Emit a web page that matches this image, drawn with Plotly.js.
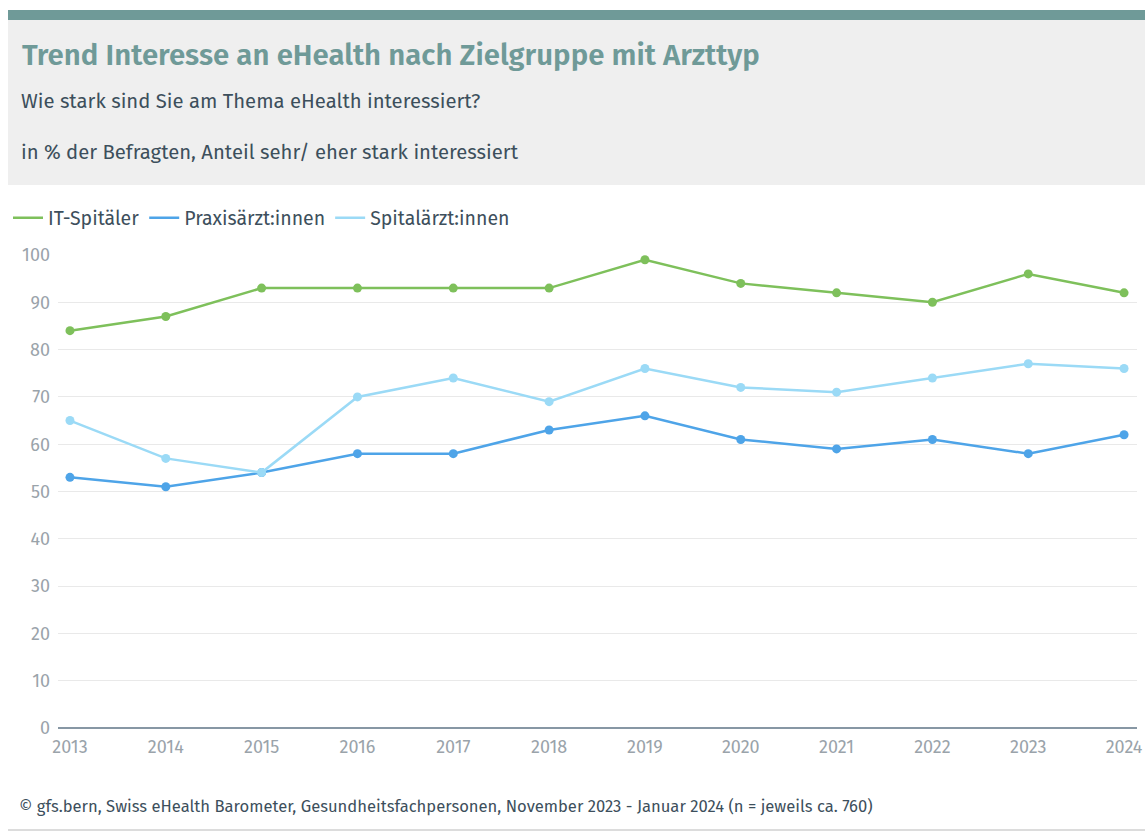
<!DOCTYPE html>
<html>
<head>
<meta charset="utf-8">
<script src="https://cdn.plot.ly/plotly-3.0.1.min.js"></script>
<style>
html,body{margin:0;padding:0;background:#fff;}
#chart{width:1145px;height:832px;}
</style>
</head>
<body>
<div id="chart"></div>
<script>
const years = [2013, 2014, 2015, 2016, 2017, 2018, 2019, 2020, 2021, 2022, 2023, 2024];
const itSpitaeler = [84, 87, 93, 93, 93, 93, 99, 94, 92, 90, 96, 92];
const praxisaerzte = [53, 51, 54, 58, 58, 63, 66, 61, 59, 61, 58, 62];
const spitalaerzte = [65, 57, 54, 70, 74, 69, 76, 72, 71, 74, 77, 76];
const seriesNames = ["IT-Spitäler", "Praxisärzt:innen", "Spitalärzt:innen"];
const yTicks = [0, 10, 20, 30, 40, 50, 60, 70, 80, 90, 100];
const titleText = "Trend Interesse an eHealth nach Zielgruppe mit Arzttyp";
const subtitleText = "Wie stark sind Sie am Thema eHealth interessiert?";
const unitText = "in % der Befragten, Anteil sehr/ eher stark interessiert";
const sourceText = "© gfs.bern, Swiss eHealth Barometer, Gesundheitsfachpersonen, November 2023 - Januar 2024 (n = jeweils ca. 760)";

const W = 1145, H = 832;
const M = {l: 58, r: 8, t: 255, b: 104};
const PW = W - M.l - M.r, PH = H - M.t - M.b;
const px = x => (x - M.l) / PW;
const py = y => (H - M.b - y) / PH;

const FONT = "'Fira Sans', 'Noto Sans', 'Open Sans', sans-serif";
const colors = ["#7ec05b", "#4ea4e8", "#9bdaf6"];

function trace(name, vals, c) {
  return {
    x: years, y: vals, name: name, type: "scatter", mode: "lines+markers",
    line: {color: c, width: 2.5}, marker: {color: c, size: 9},
    showlegend: false, legendgroup: name, hoverinfo: "x+y+name"
  };
}
function legendTrace(name, c) {
  return {
    x: [null], y: [null], name: name, type: "scatter", mode: "lines",
    line: {color: c, width: 2.5}, showlegend: true, legendgroup: name, hoverinfo: "skip"
  };
}

const data = [
  trace(seriesNames[0], itSpitaeler, colors[0]),
  trace(seriesNames[1], praxisaerzte, colors[1]),
  trace(seriesNames[2], spitalaerzte, colors[2]),
  legendTrace(seriesNames[0], colors[0]),
  legendTrace(seriesNames[1], colors[1]),
  legendTrace(seriesNames[2], colors[2])
];

const layout = {
  width: W, height: H,
  margin: M,
  paper_bgcolor: "#ffffff", plot_bgcolor: "#ffffff",
  font: {family: FONT, color: "#3d4f5c"},
  showlegend: true,
  legend: {
    orientation: "h", x: px(8), y: py(218), xanchor: "left", yanchor: "middle",
    font: {size: 19.5, color: "#3d4f5c", family: FONT},
    itemwidth: 30, tracegroupgap: 0, bgcolor: "rgba(0,0,0,0)"
  },
  xaxis: {
    range: [2012.875, 2024.135], tickvals: years, ticktext: years.map(String),
    showgrid: false, zeroline: false, showline: false, ticks: "",
    ticklabelstandoff: 6,
    tickfont: {size: 18, color: "#9aa3aa", family: FONT}, fixedrange: true
  },
  yaxis: {
    range: [0, 100], tickvals: yTicks,
    showgrid: true, gridcolor: "#e9e9e9", gridwidth: 1,
    zeroline: true, zerolinecolor: "#8797a4", zerolinewidth: 2,
    showline: false, ticks: "", ticklabelstandoff: 7,
    tickfont: {size: 18, color: "#9aa3aa", family: FONT}, fixedrange: true
  },
  shapes: [
    {type: "rect", xref: "paper", yref: "paper", x0: px(8), x1: px(1145), y0: py(185), y1: py(20), fillcolor: "#efefef", line: {width: 0}, layer: "below"},
    {type: "rect", xref: "paper", yref: "paper", x0: px(8), x1: px(1145), y0: py(20), y1: py(10), fillcolor: "#6f9a98", line: {width: 0}, layer: "below"},
    {type: "line", xref: "paper", yref: "paper", x0: px(8), x1: px(1145), y0: py(830), y1: py(830), line: {color: "#dcdcdc", width: 2}}
  ],
  annotations: [
    {xref: "paper", yref: "paper", x: px(20), y: py(55), xanchor: "left", yanchor: "middle", showarrow: false,
     text: titleText, font: {size: 29.4, weight: 600, color: "#6f9a98", family: FONT}},
    {xref: "paper", yref: "paper", x: px(19), y: py(101), xanchor: "left", yanchor: "middle", showarrow: false,
     text: subtitleText, font: {size: 20.3, color: "#3d4f5c", family: FONT}},
    {xref: "paper", yref: "paper", x: px(19), y: py(152), xanchor: "left", yanchor: "middle", showarrow: false,
     text: unitText, font: {size: 20.3, color: "#3d4f5c", family: FONT}},
    {xref: "paper", yref: "paper", x: px(17), y: py(806), xanchor: "left", yanchor: "middle", showarrow: false,
     text: sourceText, font: {size: 16.6, color: "#3d4f5c", family: FONT}}
  ]
};

Plotly.newPlot("chart", data, layout, {displayModeBar: false, responsive: false});
</script>
</body>
</html>
